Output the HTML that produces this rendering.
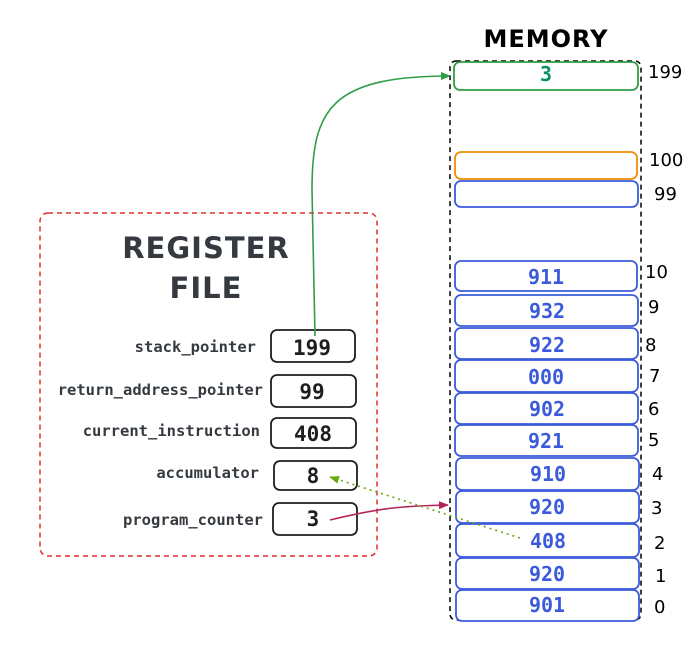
<!DOCTYPE html>
<html><head><meta charset="utf-8"><style>
html,body{margin:0;padding:0;background:#fff;}
svg{display:block;}
.mono{font-family:"DejaVu Sans Mono","Liberation Mono",monospace;}
.hand{font-family:"Comic Sans MS","DejaVu Sans",sans-serif;}
</style></head><body>
<svg width="696" height="647" viewBox="0 0 696 647" xmlns="http://www.w3.org/2000/svg">
<defs>
<marker id="ag" markerWidth="10" markerHeight="10" refX="9" refY="5" orient="auto" markerUnits="userSpaceOnUse"><path d="M0,1 L10,5 L0,9 Z" fill="#2f9e44"/></marker>
<marker id="ar" markerWidth="10" markerHeight="10" refX="9" refY="5" orient="auto" markerUnits="userSpaceOnUse"><path d="M0,1 L10,5 L0,9 Z" fill="#b3245a"/></marker>
<marker id="al" markerWidth="10" markerHeight="10" refX="9" refY="5" orient="auto" markerUnits="userSpaceOnUse"><path d="M0,1 L10,5 L0,9 Z" fill="#66a80f"/></marker>
</defs>
<rect x="40" y="213" width="337" height="343" rx="8" fill="none" stroke="#e03131" stroke-width="1.5" stroke-dasharray="5,4"/>
<text x="206" y="258" text-anchor="middle" class="hand" font-size="29" font-weight="bold" fill="#343a40" letter-spacing="1">REGISTER</text>
<text x="206" y="298" text-anchor="middle" class="hand" font-size="29" font-weight="bold" fill="#343a40" letter-spacing="1">FILE</text>
<g class="mono" font-size="15.5" font-weight="bold" fill="#343a40" text-anchor="end">
<text x="256" y="352">stack_pointer</text>
<text x="263" y="395">return_address_pointer</text>
<text x="260" y="436">current_instruction</text>
<text x="259" y="478">accumulator</text>
<text x="263" y="525">program_counter</text>
</g>
<g fill="none" stroke="#1e1e1e" stroke-width="1.8">
<rect x="271" y="330" width="84" height="32" rx="6"/>
<rect x="271" y="375" width="85" height="32" rx="6"/>
<rect x="271" y="418" width="85" height="30" rx="6"/>
<rect x="274" y="461" width="83" height="29" rx="6"/>
<rect x="273" y="503" width="84" height="32" rx="6"/>
</g>
<g class="mono" font-size="21" font-weight="bold" fill="#1e1e1e" text-anchor="middle">
<text x="312" y="355">199</text>
<text x="312" y="399">99</text>
<text x="313" y="441">408</text>
<text x="313" y="483">8</text>
<text x="313" y="526">3</text>
</g>
<text x="546" y="47" text-anchor="middle" class="hand" font-size="24" font-weight="bold" fill="#000" letter-spacing="1">MEMORY</text>
<rect x="450" y="61" width="191" height="559" rx="6" fill="none" stroke="#000" stroke-width="1.5" stroke-dasharray="5,4"/>
<rect x="454" y="62" width="184" height="28" rx="6" fill="#fff" stroke="#2f9e44" stroke-width="1.8"/>
<text x="546" y="81" text-anchor="middle" class="mono" font-size="20" font-weight="bold" fill="#099268">3</text>
<rect x="455" y="152" width="182" height="27" rx="6" fill="#fff" stroke="#f08c00" stroke-width="1.8"/>
<rect x="455" y="181" width="183" height="26" rx="6" fill="#fff" stroke="#3b5bdb" stroke-width="1.8"/>
<g fill="#fff" stroke="#3b5bdb" stroke-width="1.8">
<rect x="455" y="261" width="182" height="30" rx="6"/>
<rect x="455" y="295" width="183" height="31" rx="6"/>
<rect x="455" y="328" width="183" height="31" rx="6"/>
<rect x="455" y="360" width="183" height="32" rx="6"/>
<rect x="455" y="393" width="183" height="31" rx="6"/>
<rect x="455" y="425" width="183" height="31" rx="6"/>
<rect x="456" y="458" width="183" height="32" rx="6"/>
<rect x="456" y="491" width="183" height="32" rx="6"/>
<rect x="456" y="524" width="183" height="33" rx="6"/>
<rect x="456" y="558" width="183" height="31" rx="6"/>
<rect x="456" y="590" width="183" height="31" rx="6"/>
</g>
<g class="mono" font-size="20" font-weight="bold" fill="#3b5bdb" text-anchor="middle">
<text x="546" y="284">911</text>
<text x="547" y="318">932</text>
<text x="547" y="352">922</text>
<text x="546" y="384">000</text>
<text x="547" y="416">902</text>
<text x="546" y="448">921</text>
<text x="548" y="481">910</text>
<text x="547" y="514">920</text>
<text x="548" y="548">408</text>
<text x="547" y="581">920</text>
<text x="547" y="612">901</text>
</g>
<g class="hand" font-size="18" fill="#000">
<text x="648" y="78">199</text>
<text x="649" y="166">100</text>
<text x="654" y="200">99</text>
<text x="645" y="278">10</text>
<text x="648" y="313">9</text>
<text x="645" y="351">8</text>
<text x="649" y="382">7</text>
<text x="648" y="415">6</text>
<text x="648" y="446">5</text>
<text x="652" y="480">4</text>
<text x="651" y="514">3</text>
<text x="654" y="549">2</text>
<text x="655" y="582">1</text>
<text x="654" y="613">0</text>
</g>
<path d="M315,336 L312,190 C312,110 330,76 450,76" fill="none" stroke="#2f9e44" stroke-width="1.6" marker-end="url(#ag)"/>
<path d="M330,520 C380,508 400,506 448,505" fill="none" stroke="#b3245a" stroke-width="1.6" marker-end="url(#ar)"/>
<path d="M520,538 L330,477" fill="none" stroke="#66a80f" stroke-width="1.6" stroke-dasharray="2,4" marker-end="url(#al)"/>
</svg>
</body></html>
